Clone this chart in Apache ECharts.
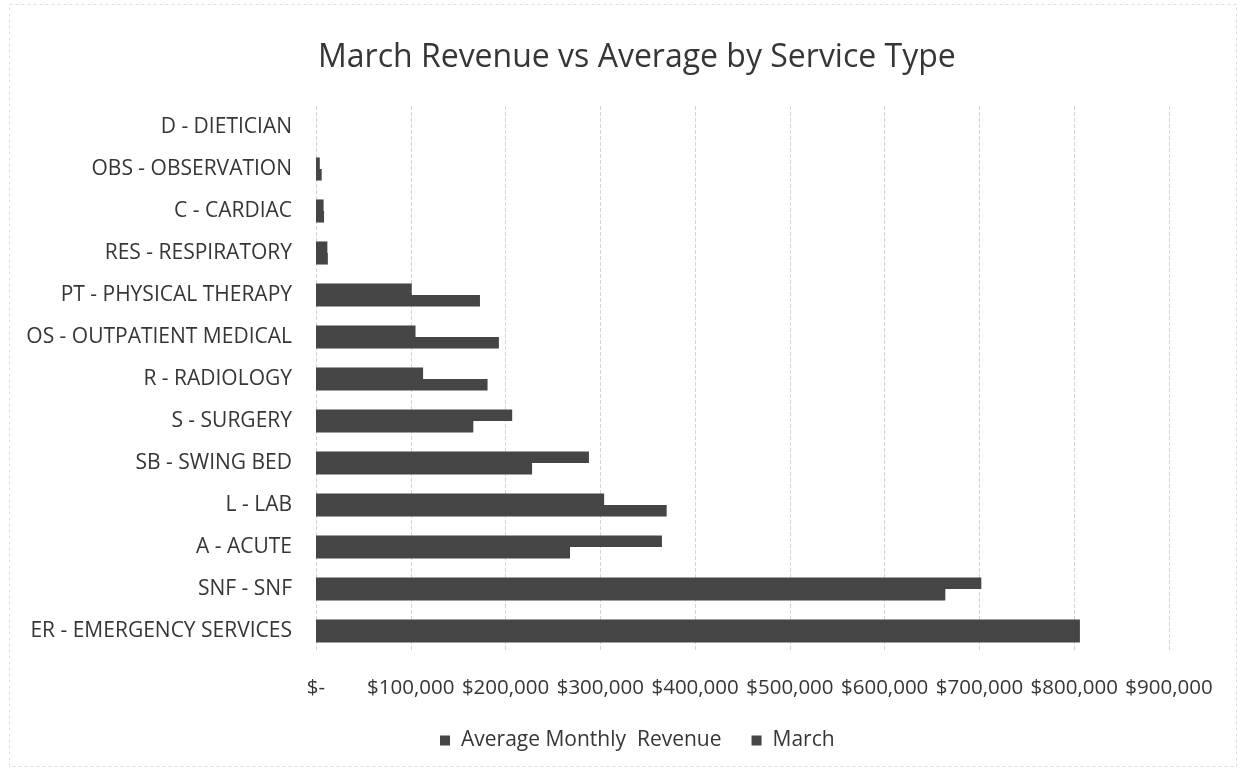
<!DOCTYPE html>
<html>
<head>
<meta charset="utf-8">
<script src="https://cdn.jsdelivr.net/npm/echarts@6/dist/echarts.min.js"></script>
<style>
html,body{margin:0;padding:0;background:#fff;}
#c{width:1246px;height:771px;}
</style>
</head>
<body>
<div id="c"></div>
<script>
// categories listed bottom to top (as drawn on the category axis)
const categories = [
  'ER - EMERGENCY SERVICES', 'SNF - SNF', 'A - ACUTE', 'L - LAB', 'SB - SWING BED',
  'S - SURGERY', 'R - RADIOLOGY', 'OS - OUTPATIENT MEDICAL', 'PT - PHYSICAL THERAPY',
  'RES - RESPIRATORY', 'C - CARDIAC', 'OBS - OBSERVATION', 'D - DIETICIAN'
];
const averageMonthlyRevenue = [806000, 664000, 268000, 370000, 228000, 166000, 181000, 193000, 173000, 12500, 8500, 6000, 0];
const marchRevenue = [806000, 702000, 365000, 304000, 288000, 207000, 113000, 105000, 101000, 12000, 8000, 4000, 0];
const seriesNames = ['Average Monthly  Revenue', 'March'];
const xTicks = [0, 100000, 200000, 300000, 400000, 500000, 600000, 700000, 800000, 900000];

const FONT = 'Open Sans';
const TXT = '#363636';
const BAR = '#454545';
const chart = echarts.init(document.getElementById('c'), null, {renderer: 'canvas'});
chart.setOption({
  backgroundColor: '#ffffff',
  animation: false,
  textStyle: {fontFamily: FONT},
  graphic: [{
    type: 'rect', silent: true, z: -10,
    shape: {x: 9.5, y: 4.5, width: 1227, height: 762},
    style: {fill: 'none', stroke: '#dddddd', lineWidth: 1, lineDash: [3, 3]}
  }],
  title: {
    text: 'March Revenue vs Average by Service Type',
    left: 313,
    top: 37,
    textStyle: {fontFamily: FONT, fontSize: 32, fontWeight: 'normal', color: TXT}
  },
  legend: {
    bottom: 15,
    left: 435,
    itemWidth: 10,
    itemHeight: 10,
    itemGap: 30,
    icon: 'rect',
    textStyle: {fontFamily: FONT, fontSize: 21, color: TXT, padding: [0, 0, 0, 6]},
    data: seriesNames
  },
  grid: {left: 316, right: 77, top: 106, bottom: 119, containLabel: false},
  xAxis: {
    type: 'value',
    min: xTicks[0],
    max: xTicks[xTicks.length - 1],
    interval: xTicks[1] - xTicks[0],
    axisLine: {show: false},
    axisTick: {show: false},
    splitLine: {show: true, lineStyle: {color: '#d4d4d4', width: 1, type: [4, 2]}},
    axisLabel: {
      margin: 26,
      fontFamily: FONT, fontSize: 20.5, color: TXT,
      formatter: v => v === 0 ? '$-' : '$' + v.toLocaleString('en-US')
    }
  },
  yAxis: {
    type: 'category',
    data: categories,
    axisLine: {show: false},
    axisTick: {show: false},
    axisLabel: {margin: 24, fontFamily: FONT, fontSize: 21, color: TXT}
  },
  series: [
    {name: seriesNames[1], type: 'bar', data: marchRevenue, barCategoryGap: '45%', barGap: '0%', itemStyle: {color: BAR}},
    {name: seriesNames[0], type: 'bar', data: averageMonthlyRevenue, barCategoryGap: '45%', barGap: '0%', itemStyle: {color: BAR}}
  ]
});
</script>
</body>
</html>
